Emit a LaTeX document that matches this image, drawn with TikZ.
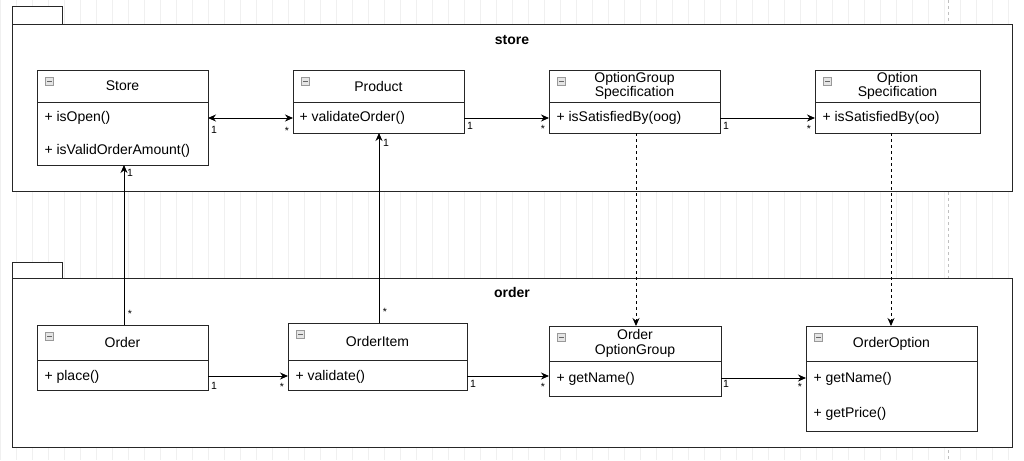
\documentclass[tikz,border=0pt]{standalone}
\usepackage{fontspec}
\setmainfont{Liberation Sans}
\usetikzlibrary{arrows.meta}
\begin{document}
\begin{tikzpicture}[x=1pt,y=-1pt,
  box/.style={draw=black!85,line width=1pt,fill=white},
  lbl/.style={font=\fontsize{14}{16}\selectfont},
  mult/.style={font=\fontsize{10.5}{11}\selectfont,inner sep=1pt},
  assoc/.style={line width=0.9pt,-{Stealth[length=8pt,width=7pt]}},
  dep/.style={line width=0.9pt,dashed,dash pattern=on 3pt off 3pt,-{Stealth[length=8pt,width=7pt]}}]
\useasboundingbox (0,0) rectangle (1024,460);
\fill[white] (0,0) rectangle (1024,460);
\draw[black!6,line width=0.5pt] (0,0) grid[step=16] (1024,460);
\draw[black!25,dashed,line width=0.8pt] (948,0) -- (948,460);
% packages
\draw[box] (12,7) rectangle (62,25);
\draw[box] (12,25) rectangle (1012,191);
\node[font=\fontsize{14}{16}\selectfont\bfseries] (pstore) at (512,40) {store};
\draw[box] (12,262) rectangle (62,278);
\draw[box] (12,278) rectangle (1012,447);
\node[font=\fontsize{14}{16}\selectfont\bfseries] (porder) at (512,292) {order};
% class macro
\newcommand{\umlclass}[7]{% name, x1,x2,y1,ydiv,y2, title
  \draw[box] (#2,#4) rectangle (#3,#6);
  \draw[black!85,line width=1pt] (#2,#5) -- (#3,#5);
  \fill[black!40] (#2+8,#4+7) rectangle (#2+17,#4+16);
  \fill[black!10] (#2+9,#4+8) rectangle (#2+16,#4+15);
  \draw[black!60,line width=0.8pt] (#2+10,#4+11.5) -- (#2+15,#4+11.5);
  \coordinate (#1-nw) at (#2,#4);
  \node[align=center,inner sep=0pt,font=\fontsize{14}{14.5}\selectfont] (#1) at ({(#2+#3)/2},{(#4+#5)/2}) {#7};
}
\umlclass{store}{37}{208}{70}{102}{165}{Store}
\node[lbl,anchor=west] (s1) at (41,118) {+ isOpen()};
\node[lbl,anchor=west] (s2) at (41,151) {+ isValidOrderAmount()};
\umlclass{product}{293}{464}{70}{102}{133}{Product}
\node[lbl,anchor=west] (p1) at (296,118) {+ validateOrder()};
\umlclass{ogs}{549}{720}{70}{102}{133}{OptionGroup\\Specification}
\node[lbl,anchor=west] (g1) at (553,118) {+ isSatisfiedBy(oog)};
\umlclass{os}{815}{980}{70}{102}{133}{Option\\Specification}
\node[lbl,anchor=west] (o1) at (819,118) {+ isSatisfiedBy(oo)};
\umlclass{order}{37}{208}{325}{360}{390}{Order}
\node[lbl,anchor=west] (r1) at (41,377) {+ place()};
\umlclass{item}{288}{467}{323}{360}{390}{OrderItem}
\node[lbl,anchor=west] (i1) at (292,377) {+ validate()};
\umlclass{oog}{549}{721}{326}{361}{396}{Order\\OptionGroup}
\node[lbl,anchor=west] (q1) at (553,379) {+ getName()};
\umlclass{oo}{806}{977}{326}{361}{431}{OrderOption}
\node[lbl,anchor=west] (q2) at (810,379) {+ getName()};
\node[lbl,anchor=west] (q3) at (810,414) {+ getPrice()};
% connector anchors
\coordinate (a1) at (208,118); \coordinate (a2) at (293,118);
\coordinate (b1) at (464,118); \coordinate (b2) at (549,118);
\coordinate (c1) at (720,118); \coordinate (c2) at (815,118);
\coordinate (d1) at (124,325); \coordinate (d2) at (124,165);
\coordinate (e1) at (379,323); \coordinate (e2) at (379,133);
\coordinate (f1) at (208,376); \coordinate (f2) at (288,376);
\coordinate (g1a) at (467,376); \coordinate (g2) at (549,376);
\coordinate (h1) at (721,378); \coordinate (h2) at (806,378);
\coordinate (k1) at (636,133); \coordinate (k2) at (636,326);
\coordinate (m1) at (891,133); \coordinate (m2) at (891,326);
\draw[assoc,{Stealth[length=8pt,width=7pt]}-{Stealth[length=8pt,width=7pt]}] (a1) -- (a2);
\draw[assoc] (b1) -- (b2);
\draw[assoc] (c1) -- (c2);
\draw[assoc] (d1) -- (d2);
\draw[assoc] (e1) -- (e2);
\draw[assoc] (f1) -- (f2);
\draw[assoc] (g1a) -- (g2);
\draw[assoc] (h1) -- (h2);
\draw[dep] (k1) -- (k2);
\draw[dep] (m1) -- (m2);
% multiplicities
\node[mult] (m01) at (214,130) {1};
\node[mult] (m02) at (287,131) {*};
\node[mult] (m03) at (470,126) {1};
\node[mult] (m04) at (543,129) {*};
\node[mult] (m05) at (726,126) {1};
\node[mult] (m06) at (809,129) {*};
\node[mult] (m07) at (130,173) {1};
\node[mult] (m08) at (130,314) {*};
\node[mult] (m09) at (386,143) {1};
\node[mult] (m10) at (385,312) {*};
\node[mult] (m11) at (214,386) {1};
\node[mult] (m12) at (282,387) {*};
\node[mult] (m13) at (473,384) {1};
\node[mult] (m14) at (543,387) {*};
\node[mult] (m15) at (726,384) {1};
\node[mult] (m16) at (800,387) {*};
\end{tikzpicture}
\end{document}
